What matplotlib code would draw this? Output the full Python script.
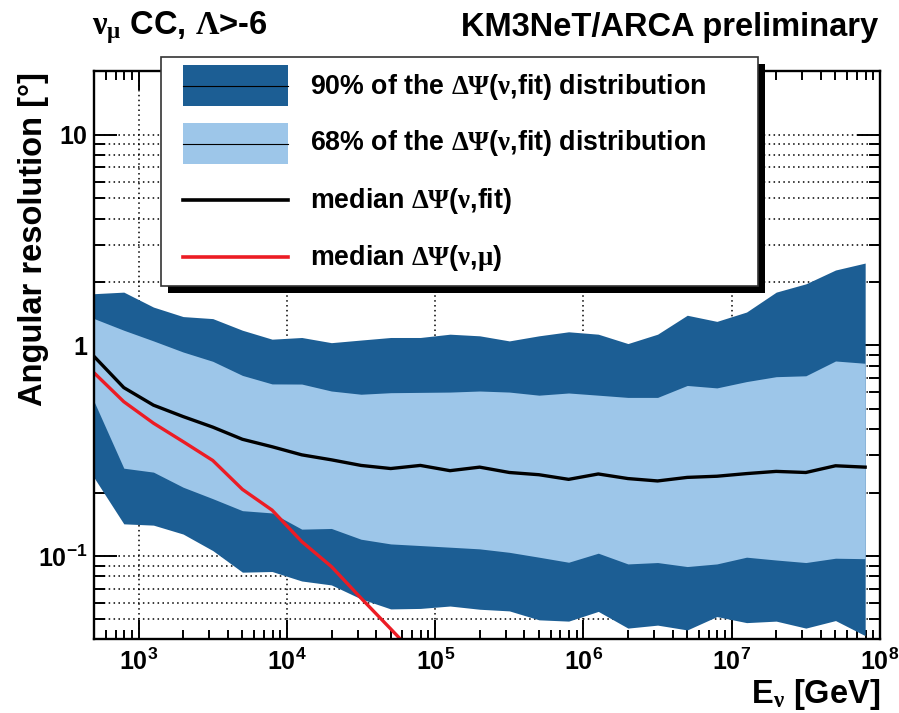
import numpy as np
import matplotlib
matplotlib.use("Agg")
import matplotlib.pyplot as plt
from matplotlib.patches import Rectangle
from matplotlib.lines import Line2D
from matplotlib.ticker import FixedLocator, FixedFormatter, NullFormatter, LogLocator

plt.rcParams.update({
    "font.family": ["Liberation Sans", "DejaVu Sans"],
    "font.weight": "bold",
    "mathtext.fontset": "custom",
    "mathtext.rm": "Liberation Serif",
    "mathtext.it": "Liberation Serif:italic",
    "mathtext.bf": "Liberation Sans:bold",
    "mathtext.sf": "Liberation Sans:bold",
})

# neutrino energy bin centres, log10(E/GeV)
log_energy = [2.7, 2.9, 3.1, 3.3, 3.5, 3.7, 3.9, 4.1, 4.3, 4.5, 4.7, 4.9, 5.1, 5.3,
              5.5, 5.7, 5.9, 6.1, 6.3, 6.5, 6.7, 6.9, 7.1, 7.3, 7.5, 7.7, 7.9]

# angular error quantiles of dPsi(nu, fit) [deg]
upper_90 = [1.76, 1.79, 1.52, 1.37, 1.34, 1.18, 1.07, 1.09, 1.03, 1.06, 1.09, 1.09, 1.13, 1.11,
            1.05, 1.11, 1.16, 1.13, 1.02, 1.13, 1.39, 1.30, 1.44, 1.79, 1.96, 2.28, 2.46]
upper_68 = [1.34, 1.18, 1.05, 0.93, 0.84, 0.72, 0.656, 0.655, 0.607, 0.586, 0.596, 0.598, 0.60, 0.607,
            0.60, 0.58, 0.594, 0.58, 0.566, 0.566, 0.645, 0.628, 0.673, 0.71, 0.717, 0.843, 0.822]
median_fit = [0.885, 0.63, 0.52, 0.459, 0.409, 0.358, 0.33, 0.302, 0.286, 0.269, 0.26, 0.269, 0.254, 0.264,
              0.249, 0.243, 0.231, 0.245, 0.233, 0.227, 0.236, 0.239, 0.246, 0.252, 0.249, 0.268, 0.264]
lower_68 = [0.54, 0.261, 0.25, 0.212, 0.187, 0.164, 0.16, 0.134, 0.135, 0.12, 0.114, 0.112, 0.11, 0.108,
            0.104, 0.0986, 0.0933, 0.103, 0.0916, 0.093, 0.089, 0.0916, 0.0986, 0.0956, 0.093, 0.0975, 0.097]
lower_90 = [0.235, 0.142, 0.14, 0.127, 0.106, 0.0837, 0.0843, 0.076, 0.0728, 0.0625, 0.056, 0.0563, 0.0578, 0.0558,
            0.0548, 0.0497, 0.049, 0.0545, 0.0454, 0.0469, 0.0445, 0.0515, 0.0482, 0.049, 0.0454, 0.0493, 0.0418]

# median kinematic angle dPsi(nu, mu) [deg], first bins
median_mu = [0.74, 0.54, 0.427, 0.349, 0.284, 0.207, 0.165, 0.117, 0.089, 0.063, 0.045, 0.032]

x_ticks = [1e3, 1e4, 1e5, 1e6, 1e7, 1e8]
x_tick_labels = [r"$\mathbf{10^{3}}$", r"$\mathbf{10^{4}}$", r"$\mathbf{10^{5}}$",
                 r"$\mathbf{10^{6}}$", r"$\mathbf{10^{7}}$", r"$\mathbf{10^{8}}$"]
y_ticks = [0.1, 1, 10]
y_tick_labels = [r"$\mathbf{10^{-1}}$", "1", "10"]

legend_labels = [
    r"90% of the $\mathrm{\Delta\Psi}$($\mathrm{\nu}$,fit) distribution",
    r"68% of the $\mathrm{\Delta\Psi}$($\mathrm{\nu}$,fit) distribution",
    r"median $\mathrm{\Delta\Psi}$($\mathrm{\nu}$,fit)",
    r"median $\mathrm{\Delta\Psi}$($\mathrm{\nu}$,$\mathrm{\mu}$)",
]

DARK = "#1c5e94"
LIGHT = "#9dc6e9"
RED = "#ec1c24"

energy = 10 ** np.array(log_energy)
energy_mu = energy[:len(median_mu)]

W, H = 899, 713
fig = plt.figure(figsize=(W / 100, H / 100), dpi=100)


def fx(x):
    return x / W


def fy(y):
    return 1 - y / H


ax = fig.add_axes([fx(94), fy(639), (880 - 94) / W, (639 - 71) / H])
ax.set_xscale("log")
ax.set_yscale("log")
ax.set_xlim(500, 1e8)
ax.set_ylim(0.0403, 20.1)

ax.fill_between(energy, lower_90, upper_90, color=DARK, lw=0, zorder=3)
ax.fill_between(energy, lower_68, upper_68, color=LIGHT, lw=0, zorder=3.1)
ax.plot(energy, median_fit, color="black", lw=2.4, zorder=4)
ax.plot(energy_mu, median_mu, color=RED, lw=2.4, zorder=4)

ax.xaxis.set_major_locator(FixedLocator(x_ticks))
ax.xaxis.set_major_formatter(FixedFormatter(x_tick_labels))
ax.xaxis.set_minor_locator(LogLocator(base=10, subs=range(2, 10), numticks=100))
ax.xaxis.set_minor_formatter(NullFormatter())
ax.yaxis.set_major_locator(FixedLocator(y_ticks))
ax.yaxis.set_major_formatter(FixedFormatter(y_tick_labels))
ax.yaxis.set_minor_locator(LogLocator(base=10, subs=range(2, 10), numticks=100))
ax.yaxis.set_minor_formatter(NullFormatter())

ax.tick_params(which="both", direction="in", top=True, right=True, width=1.4, color="black")
ax.tick_params(axis="x", which="major", length=13.5, pad=7, labelsize=18)
ax.tick_params(axis="x", which="minor", length=6.5)
ax.tick_params(axis="y", which="major", length=16.5, pad=5, labelsize=18)
ax.tick_params(axis="y", which="minor", length=8)

grid_style = dict(color="black", linestyle=(0, (1, 2.2)), linewidth=1.1)
ax.grid(True, which="major", axis="x", **grid_style)
ax.grid(True, which="both", axis="y", **grid_style)

for s in ax.spines.values():
    s.set_linewidth(1.7)
    s.set_zorder(5)

# legend box with drop shadow
box_l, box_r, box_t, box_b = 161, 758, 57, 286
fig.add_artist(Rectangle((fx(box_l + 7), fy(box_b + 7)), (box_r - box_l) / W, (box_b - box_t) / H,
                         transform=fig.transFigure, facecolor="black", edgecolor="none", zorder=10))
fig.add_artist(Rectangle((fx(box_l), fy(box_b)), (box_r - box_l) / W, (box_b - box_t) / H,
                         transform=fig.transFigure, facecolor="white", edgecolor="#333333",
                         lw=1.2, zorder=11))

key_l, key_r = 183, 288
for top, bot, col in [(65, 106, DARK), (123, 164, LIGHT)]:
    fig.add_artist(Rectangle((fx(key_l), fy(bot)), (key_r - key_l) / W, (bot - top) / H,
                             transform=fig.transFigure, facecolor=col, edgecolor="none", zorder=12))
    mid = 0.5 * (top + bot)
    fig.add_artist(Line2D([fx(key_l), fx(key_r)], [fy(mid), fy(mid)], transform=fig.transFigure,
                          color="black", lw=0.8, zorder=13))
for yy, col in [(200, "black"), (257, RED)]:
    fig.add_artist(Line2D([fx(key_l), fx(key_r)], [fy(yy), fy(yy)], transform=fig.transFigure,
                          color=col, lw=2.6, zorder=13))

for yy, lab in zip([94, 150, 208, 265], legend_labels):
    fig.text(fx(310), fy(yy), lab, ha="left", va="baseline", fontsize=19.3, zorder=14)

# titles and axis labels
fig.text(fx(92), fy(34), r"$\mathrm{\nu}_{\mathrm{\mu}}$ CC, $\mathrm{\Lambda}$>-6",
         ha="left", va="baseline", fontsize=23.5)
fig.text(fx(878), fy(36), "KM3NeT/ARCA preliminary", ha="right", va="baseline", fontsize=23.5)
fig.text(fx(880), fy(703), r"E$_{\mathrm{\nu}}$ [GeV]", ha="right", va="baseline", fontsize=23.5)
fig.text(fx(42), fy(72), "Angular resolution [°]", rotation=90, rotation_mode="anchor",
         ha="right", va="baseline", fontsize=23.5)

fig.savefig("out.png", dpi=100)
